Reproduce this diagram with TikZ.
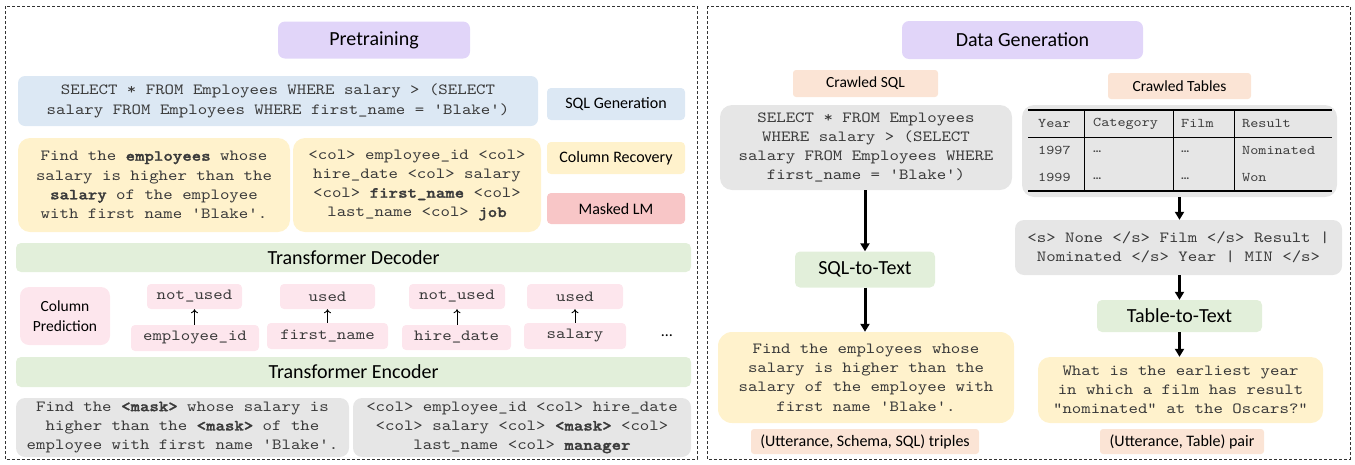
\documentclass[tikz,border=0pt]{standalone}
\usepackage{fontspec}
\setmainfont{Carlito}
\setmonofont{lmmono10-regular.otf}[FakeStretch=1.16, BoldFont=lmmonolt10-bold.otf, BoldFeatures={FakeBold=1.5}]
\usetikzlibrary{arrows.meta}
\definecolor{cpurple}{HTML}{E1D5F9}
\definecolor{cblue}{HTML}{DCE8F4}
\definecolor{cyellow}{HTML}{FFF2CC}
\definecolor{cred}{HTML}{F8C6C7}
\definecolor{cpink}{HTML}{FDE6ED}
\definecolor{cgreen}{HTML}{E2EFDA}
\definecolor{cgray}{HTML}{E6E6E6}
\definecolor{cpeach}{HTML}{FBE4D5}
\definecolor{ctext}{HTML}{3A3A3A}
\begin{document}
\begin{tikzpicture}[x=1pt,y=-1pt,
  box/.style={rounded corners=7pt, inner sep=0pt, align=center, draw=none},
  mono/.style={font=\ttfamily\fontsize{15.5}{19.3}\selectfont, text=ctext},
  small/.style={font=\fontsize{16}{18}\selectfont},
  title/.style={font=\fontsize{20}{23}\selectfont},
  tab/.style={font=\ttfamily\fontsize{13.3}{16}\selectfont, text=ctext, anchor=west, inner sep=0pt},
  frame/.style={draw=black!80, line width=0.9pt, dash pattern=on 3pt off 2pt},
  uparrow/.style={draw=black, line width=0.9pt, -{To[length=4pt,width=7pt]}},
  bigarrow/.style={draw=black, line width=3pt, -{Triangle[length=8pt,width=9pt]}}
]
\useasboundingbox (0,0) rectangle (1355,464);
% frames
\draw[frame] (5,6) rectangle (697,459);
\draw[frame] (707,6) rectangle (1350,459);

% ---------------- Left panel ----------------
\node[box, title, fill=cpurple, minimum width=192pt, minimum height=37pt] (pre) at (374,40) {Pretraining};
\node[box, mono, fill=cblue, minimum width=520pt, minimum height=50pt] (sql) at (278,101)
  {SELECT * FROM Employees WHERE salary > (SELECT\\salary FROM Employees WHERE first\_name = 'Blake')};
\node[box, small, fill=cblue, rounded corners=4pt, minimum width=138pt, minimum height=32pt] (sqlgen) at (616,104) {SQL Generation};
\node[box, mono, fill=cyellow, rounded corners=12pt, minimum width=272pt, minimum height=94pt] (y1) at (154,185)
  {Find the \textbf{employees} whose\\salary is higher than the\\\textbf{salary} of the employee\\with first name 'Blake'.};
\node[box, mono, fill=cyellow, rounded corners=12pt, minimum width=248pt, minimum height=94pt] (y2) at (417,185)
  {<col> employee\_id <col>\\hire\_date <col> salary\\<col> \textbf{first\_name} <col>\\last\_name <col> \textbf{job}};
\node[box, small, fill=cyellow, rounded corners=4pt, minimum width=138pt, minimum height=32pt] (colrec) at (616,158) {Column Recovery};
\node[box, small, fill=cred, rounded corners=4pt, minimum width=138pt, minimum height=31pt] (mlm) at (616,208.5) {Masked LM};

\node[box, title, fill=cgreen, rounded corners=5pt, minimum width=675pt, minimum height=29pt] (dec) at (353.5,257.5) {Transformer Decoder};

\node[box, small, fill=cpink, rounded corners=9pt, minimum width=90pt, minimum height=58pt, font=\fontsize{15.5}{20.5}\selectfont] (colpred) at (65,316) {Column\\Prediction};
\node[box, mono, fill=cpink, rounded corners=4pt, minimum width=95pt, minimum height=25pt] (nu1) at (194.5,296.5) {not\_used};
\node[box, mono, fill=cpink, rounded corners=4pt, minimum width=95pt, minimum height=25pt] (u1) at (327.5,296.5) {used};
\node[box, mono, fill=cpink, rounded corners=4pt, minimum width=96pt, minimum height=25pt] (nu2) at (457,296.5) {not\_used};
\node[box, mono, fill=cpink, rounded corners=4pt, minimum width=96pt, minimum height=25pt] (u2) at (575,296.5) {used};
\node[box, mono, fill=cpink, rounded corners=4pt, minimum width=128pt, minimum height=26pt] (c1) at (195,338) {employee\_id};
\node[box, mono, fill=cpink, rounded corners=4pt, minimum width=121pt, minimum height=26pt] (c2) at (327.5,336) {first\_name};
\node[box, mono, fill=cpink, rounded corners=4pt, minimum width=109pt, minimum height=25pt] (c3) at (456.5,337.5) {hire\_date};
\node[box, mono, fill=cpink, rounded corners=4pt, minimum width=102pt, minimum height=26pt] (c4) at (575,336) {salary};
\node[small, inner sep=0pt] (dots) at (667,336) {…};
\draw[uparrow] (nu1.south |- c1.north) -- (nu1.south);
\draw[uparrow] (u1.south |- c2.north) -- (u1.south);
\draw[uparrow] (nu2.south |- c3.north) -- (nu2.south);
\draw[uparrow] (u2.south |- c4.north) -- (u2.south);

\node[box, title, fill=cgreen, rounded corners=5pt, minimum width=675pt, minimum height=30pt] (enc) at (353.5,372) {Transformer Encoder};
\node[box, mono, fill=cgray, rounded corners=9pt, minimum width=333pt, minimum height=59pt] (g1) at (182.5,427.5)
  {Find the \textbf{<mask>} whose salary is\\higher than the \textbf{<mask>} of the\\employee with first name 'Blake'.};
\node[box, mono, fill=cgray, rounded corners=9pt, minimum width=338pt, minimum height=59pt] (g2) at (522,427.5)
  {<col> employee\_id <col> hire\_date\\<col> salary <col> \textbf{<mask>} <col>\\last\_name <col> \textbf{manager}};

% ---------------- Right panel ----------------
\node[box, title, fill=cpurple, minimum width=241pt, minimum height=38pt] (dg) at (1022.5,40) {Data Generation};
\node[box, small, fill=cpeach, rounded corners=3pt, minimum width=145pt, minimum height=27pt, font=\fontsize{15.5}{18}\selectfont] (crsql) at (865.5,83.5) {Crawled SQL};
\node[box, small, fill=cpeach, rounded corners=3pt, minimum width=143pt, minimum height=26pt, font=\fontsize{15.5}{18}\selectfont] (crtab) at (1179.5,86) {Crawled Tables};
\node[box, mono, fill=cgray, rounded corners=12pt, minimum width=292pt, minimum height=85pt] (gsql) at (866,147.5)
  {SELECT * FROM Employees\\WHERE salary > (SELECT\\salary FROM Employees WHERE\\first\_name = 'Blake')};
\node[box, fill=cgray, rounded corners=12pt, minimum width=315pt, minimum height=92pt] (tabbox) at (1179.5,151) {};
% table
\draw[line width=1.4pt] (1028,110) -- (1332,110);
\draw[line width=0.9pt] (1028,137) -- (1332,137);
\draw[line width=1.4pt] (1028,191) -- (1332,191);
\foreach \xx in {1084,1173,1234} \draw[line width=0.9pt] (\xx,110) -- (\xx,191);
\node[tab] (h1) at (1038,123.5) {Year};
\node[tab] (h2) at (1093,123.5) {Category};
\node[tab] (h3) at (1181,123.5) {Film};
\node[tab] (h4) at (1242,123.5) {Result};
\node[tab] (r11) at (1038,150.5) {1997};
\node[tab] (r12) at (1093,152) {…};
\node[tab] (r13) at (1181,152) {…};
\node[tab] (r14) at (1242,150.5) {Nominated};
\node[tab] (r21) at (1038,177) {1999};
\node[tab] (r22) at (1093,178.5) {…};
\node[tab] (r23) at (1181,178.5) {…};
\node[tab] (r24) at (1242,177) {Won};

\node[box, mono, fill=cgray, rounded corners=9pt, minimum width=327pt, minimum height=55pt] (ser) at (1178.5,247.5)
  {<s> None </s> Film </s> Result |\\Nominated </s> Year | MIN </s>};
\node[box, title, fill=cgreen, rounded corners=5pt, minimum width=140pt, minimum height=36pt] (s2t) at (865,269.5) {SQL-to-Text};
\node[box, mono, fill=cyellow, rounded corners=14pt, minimum width=296pt, minimum height=91pt] (yl) at (866,377.5)
  {Find the employees whose\\salary is higher than the\\salary of the employee with\\first name 'Blake'.};
\node[box, small, fill=cpeach, rounded corners=3pt, minimum width=228pt, minimum height=25pt] (lbl1) at (865,441.5) {(Utterance, Schema, SQL) triples};
\node[box, title, fill=cgreen, rounded corners=5pt, minimum width=165pt, minimum height=32pt] (t2t) at (1179.5,316) {Table-to-Text};
\node[box, mono, fill=cyellow, rounded corners=12pt, minimum width=285pt, minimum height=66pt] (yr) at (1180.5,390)
  {What is the earliest year\\in which a film has result\\"nominated" at the Oscars?"};
\node[box, small, fill=cpeach, rounded corners=3pt, minimum width=164pt, minimum height=25pt] (lbl2) at (1182,441.5) {(Utterance, Table) pair};

\draw[bigarrow] (s2t.north |- gsql.south) -- (s2t.north);
\draw[bigarrow] (s2t.south) -- (s2t.south |- yl.north);
\draw[bigarrow] (tabbox.south) -- (tabbox.south |- ser.north);
\draw[bigarrow] (t2t.north |- ser.south) -- (t2t.north);
\draw[bigarrow] (t2t.south) -- (t2t.south |- yr.north);
\end{tikzpicture}
\end{document}
